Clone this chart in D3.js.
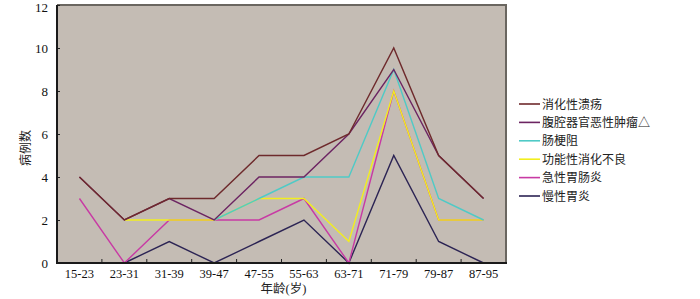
<!DOCTYPE html>
<html><head><meta charset="utf-8">
<script src="https://cdn.jsdelivr.net/npm/d3@7"></script>
<style>body{margin:0;background:#fff}svg{display:block}</style>
</head><body>
<svg id="c" width="700" height="299"></svg>
<script>
const categories = ["15-23","23-31","31-39","39-47","47-55","55-63","63-71","71-79","79-87","87-95"];
const yTicks = [0,2,4,6,8,10,12];
const seriesNames = ["消化性溃疡","腹腔器官恶性肿瘤△","肠梗阻","功能性消化不良","急性胃肠炎","慢性胃炎"];
const seriesColors = ["#6e2a2c","#6c2462","#4fcac6","#f2ee1e","#c83aa4","#2c2454"];
const pepticUlcer   = [4,2,3,3,5,5,6,10,5,3];
const abdTumor      = [4,2,3,2,4,4,6,9,5,3];
const obstruction   = [null,null,null,2,3,4,4,9,3,2];
const dyspepsia     = [null,2,2,2,3,3,1,8,2,2];
const gastroenteritis = [3,0,2,2,2,3,0,8,2,2];
const chronicGastritis = [null,0,1,0,1,2,0,5,1,0];
const seriesValues = [pepticUlcer,abdTumor,obstruction,dyspepsia,gastroenteritis,chronicGastritis];

const svg = d3.select("#c");
const L=57,R=506,T=5,B=263;
const x = d3.scaleBand().domain(categories).range([L,R]);
const y = d3.scaleLinear().domain([0,12]).range([B,T]);
const bw = x.bandwidth();

svg.append("rect").attr("x",L).attr("y",T).attr("width",R-L).attr("height",B-T).attr("fill","#c4bcb4");
// top/right frame
svg.append("path").attr("d",`M${L},${T}H${R}V${B}`).attr("fill","none").attr("stroke","#6a6660").attr("stroke-width",2);

// lines (first series on top)
const line = d3.line().defined(d=>d.v!=null).x(d=>x(d.c)+bw/2).y(d=>y(d.v));
for(let i=seriesValues.length-1;i>=0;i--){
  const data = categories.map((c,j)=>({c,v:seriesValues[i][j]}));
  svg.append("path").datum(data).attr("d",line).attr("fill","none")
    .attr("stroke",seriesColors[i]).attr("stroke-width",1.4);
}

// y axis
const ya = svg.append("g").attr("transform",`translate(${L},0)`)
  .call(d3.axisLeft(y).tickValues(yTicks).tickSize(-3).tickPadding(9));
ya.select(".domain").remove();
ya.selectAll("line").attr("stroke","#222");
ya.selectAll("text").attr("font-family","Liberation Serif").attr("font-size",13).attr("fill","#111");
ya.selectAll(".tick").filter(d=>d===12).select("text").attr("y",2);

// x axis labels
const xa = svg.append("g").attr("transform",`translate(0,${B})`)
  .call(d3.axisBottom(x).tickSize(0).tickPadding(6));
xa.select(".domain").remove();
xa.selectAll("text").attr("font-family","Liberation Serif").attr("font-size",12.5).attr("fill","#111");
// x boundary ticks
svg.append("g").selectAll("line").data(categories.slice(1)).join("line")
  .attr("x1",d=>x(d)).attr("x2",d=>x(d)).attr("y1",B).attr("y2",B-4)
  .attr("stroke","#222");

// left & bottom axis lines
svg.append("path").attr("d",`M${L},${T}V${B}H${R+1}`).attr("fill","none").attr("stroke","#1a1a1a").attr("stroke-width",2);

// titles
svg.append("text").attr("x",(L+R)/2+2).attr("y",293).attr("text-anchor","middle")
  .attr("font-family","Liberation Serif, Noto Sans CJK SC").attr("font-size",12.5).attr("fill","#222").text("年龄(岁)");
svg.append("text").attr("transform","translate(30,148) rotate(-90)").attr("text-anchor","middle")
  .attr("font-family","Noto Sans CJK SC").attr("font-size",12).attr("fill","#222").text("病例数");

// legend
const lg = svg.append("g");
seriesNames.forEach((n,i)=>{
  const yy = 104 + i*18.4;
  lg.append("line").attr("x1",519).attr("x2",540).attr("y1",yy).attr("y2",yy)
    .attr("stroke",seriesColors[i]).attr("stroke-width",1.6);
  lg.append("text").attr("x",542).attr("y",yy+4.5).attr("font-family","Noto Sans CJK SC")
    .attr("font-size",12).attr("fill","#222").text(n);
});
</script>
</body></html>
